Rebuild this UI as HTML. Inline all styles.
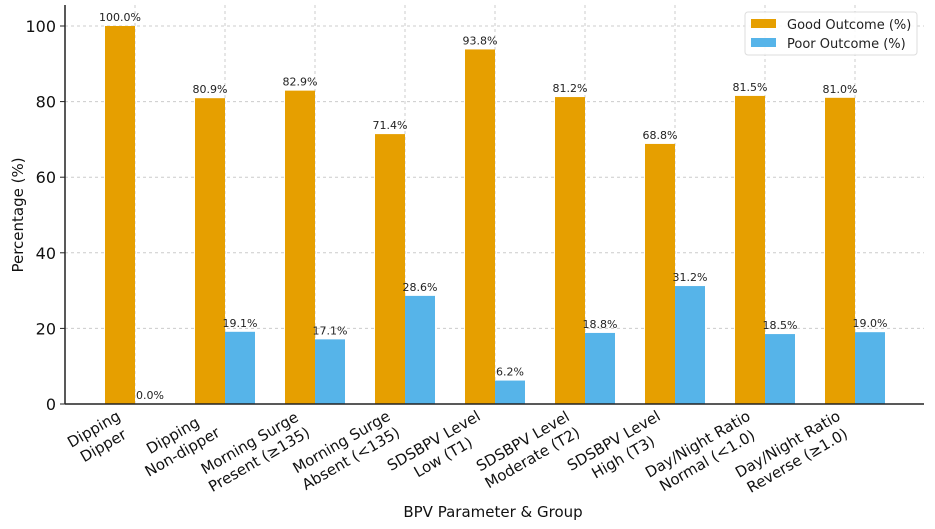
<!DOCTYPE html>
<html><head><meta charset="utf-8"><style>
html,body{margin:0;padding:0;background:#fff;}
svg{display:block;font-family:"DejaVu Sans","Liberation Sans",sans-serif;}
</style></head><body>
<svg id="chart" width="935" height="529" viewBox="0 0 935 529">
<g id="grid"></g><g id="bars"></g><g id="vals"></g><g id="axes"></g><g id="xlabels"></g>
<text x="493" y="517" font-size="15" text-anchor="middle" fill="#111">BPV Parameter &amp; Group</text>
<text transform="translate(23,215) rotate(-90)" font-size="15" text-anchor="middle" fill="#111">Percentage (%)</text>
<g>
<rect x="745" y="12" width="172" height="43" rx="3" fill="#fff" fill-opacity="0.85" stroke="#ddd"/>
<rect x="751" y="19" width="25" height="9" fill="#E69F00"/>
<text x="787" y="29" font-size="13" fill="#222">Good Outcome (%)</text>
<rect x="751" y="38" width="25" height="9" fill="#56B4E9"/>
<text x="787" y="48" font-size="13" fill="#222">Poor Outcome (%)</text>
</g>
</svg>
<script>
const categories=[["Dipping","Dipper"],["Dipping","Non-dipper"],["Morning Surge","Present (≥135)"],["Morning Surge","Absent (<135)"],["SDSBPV Level","Low (T1)"],["SDSBPV Level","Moderate (T2)"],["SDSBPV Level","High (T3)"],["Day/Night Ratio","Normal (<1.0)"],["Day/Night Ratio","Reverse (≥1.0)"]];
const goodValues=[100.0,80.9,82.9,71.4,93.8,81.2,68.8,81.5,81.0];
const poorValues=[0.0,19.1,17.1,28.6,6.2,18.8,31.2,18.5,19.0];
const yTicks=[0,20,40,60,80,100];
const NS="http://www.w3.org/2000/svg";
const X0=65,X1=924,Y0=404,Ytop=5;
const y=v=>Y0-v*3.78;
const xc=i=>135+90*i;
const BW=30;
function mk(tag,attrs,parent,txt){const e=document.createElementNS(NS,tag);for(const k in attrs)e.setAttribute(k,attrs[k]);if(txt!==undefined)e.textContent=txt;document.getElementById(parent).appendChild(e);return e;}
const grid='grid';
yTicks.forEach(t=>{
 const l=mk('line',{x1:X0,x2:X1,y1:y(t),y2:y(t),stroke:'#ccc','stroke-dasharray':'3,3'},grid);
 
 
 const tk=mk('line',{x1:X0-5,x2:X0,y1:y(t),y2:y(t),stroke:'#222'},'axes');
 
 
 const tx=mk('text',{x:X0-9,y:y(t)+6,'font-size':16,'text-anchor':'end',fill:'#111'},'axes',String(t));
 
 
});
categories.forEach((c,i)=>{
 const l=mk('line',{x1:xc(i),x2:xc(i),y1:Ytop,y2:Y0,stroke:'#ccc','stroke-dasharray':'3,3'},grid);
 
 
 const g=mk('rect',{x:xc(i)-BW,y:y(goodValues[i]),width:BW,height:Y0-y(goodValues[i]),fill:'#E69F00'},'bars');
 
 
 const p=mk('rect',{x:xc(i),y:y(poorValues[i]),width:BW,height:Y0-y(poorValues[i]),fill:'#56B4E9'},'bars');
 
 
 const vg=mk('text',{x:xc(i)-BW/2,y:y(goodValues[i])-5,'font-size':11,'text-anchor':'middle',fill:'#222'},'vals',goodValues[i].toFixed(1)+'%');
 
 
 const vp=mk('text',{x:xc(i)+BW/2,y:y(poorValues[i])-5,'font-size':11,'text-anchor':'middle',fill:'#222'},'vals',poorValues[i].toFixed(1)+'%');
 
 
 const grp=mk('g',{transform:`translate(${xc(i)-21},${Y0+2}) rotate(-30)`},'xlabels');
 
 
 const t1=document.createElementNS(NS,'text');t1.setAttribute('font-size','15');t1.setAttribute('fill','#111');t1.setAttribute('text-anchor','middle');t1.textContent=c[0];grp.appendChild(t1);
 const t2=document.createElementNS(NS,'text');t2.setAttribute('font-size','15');t2.setAttribute('fill','#111');t2.setAttribute('text-anchor','middle');t2.textContent=c[1];grp.appendChild(t2);
 const w=Math.max(t1.getComputedTextLength(),t2.getComputedTextLength());
 t1.setAttribute('x',-w/2);t1.setAttribute('y',15);
 t2.setAttribute('x',-w/2);t2.setAttribute('y',34);
});
const la=mk('line',{x1:X0,x2:X0,y1:Ytop,y2:Y0,stroke:'#222','stroke-width':1.5},'axes');


const ba=mk('line',{x1:X0,x2:X1,y1:Y0,y2:Y0,stroke:'#222','stroke-width':1.5},'axes');


</script>
</body></html>
